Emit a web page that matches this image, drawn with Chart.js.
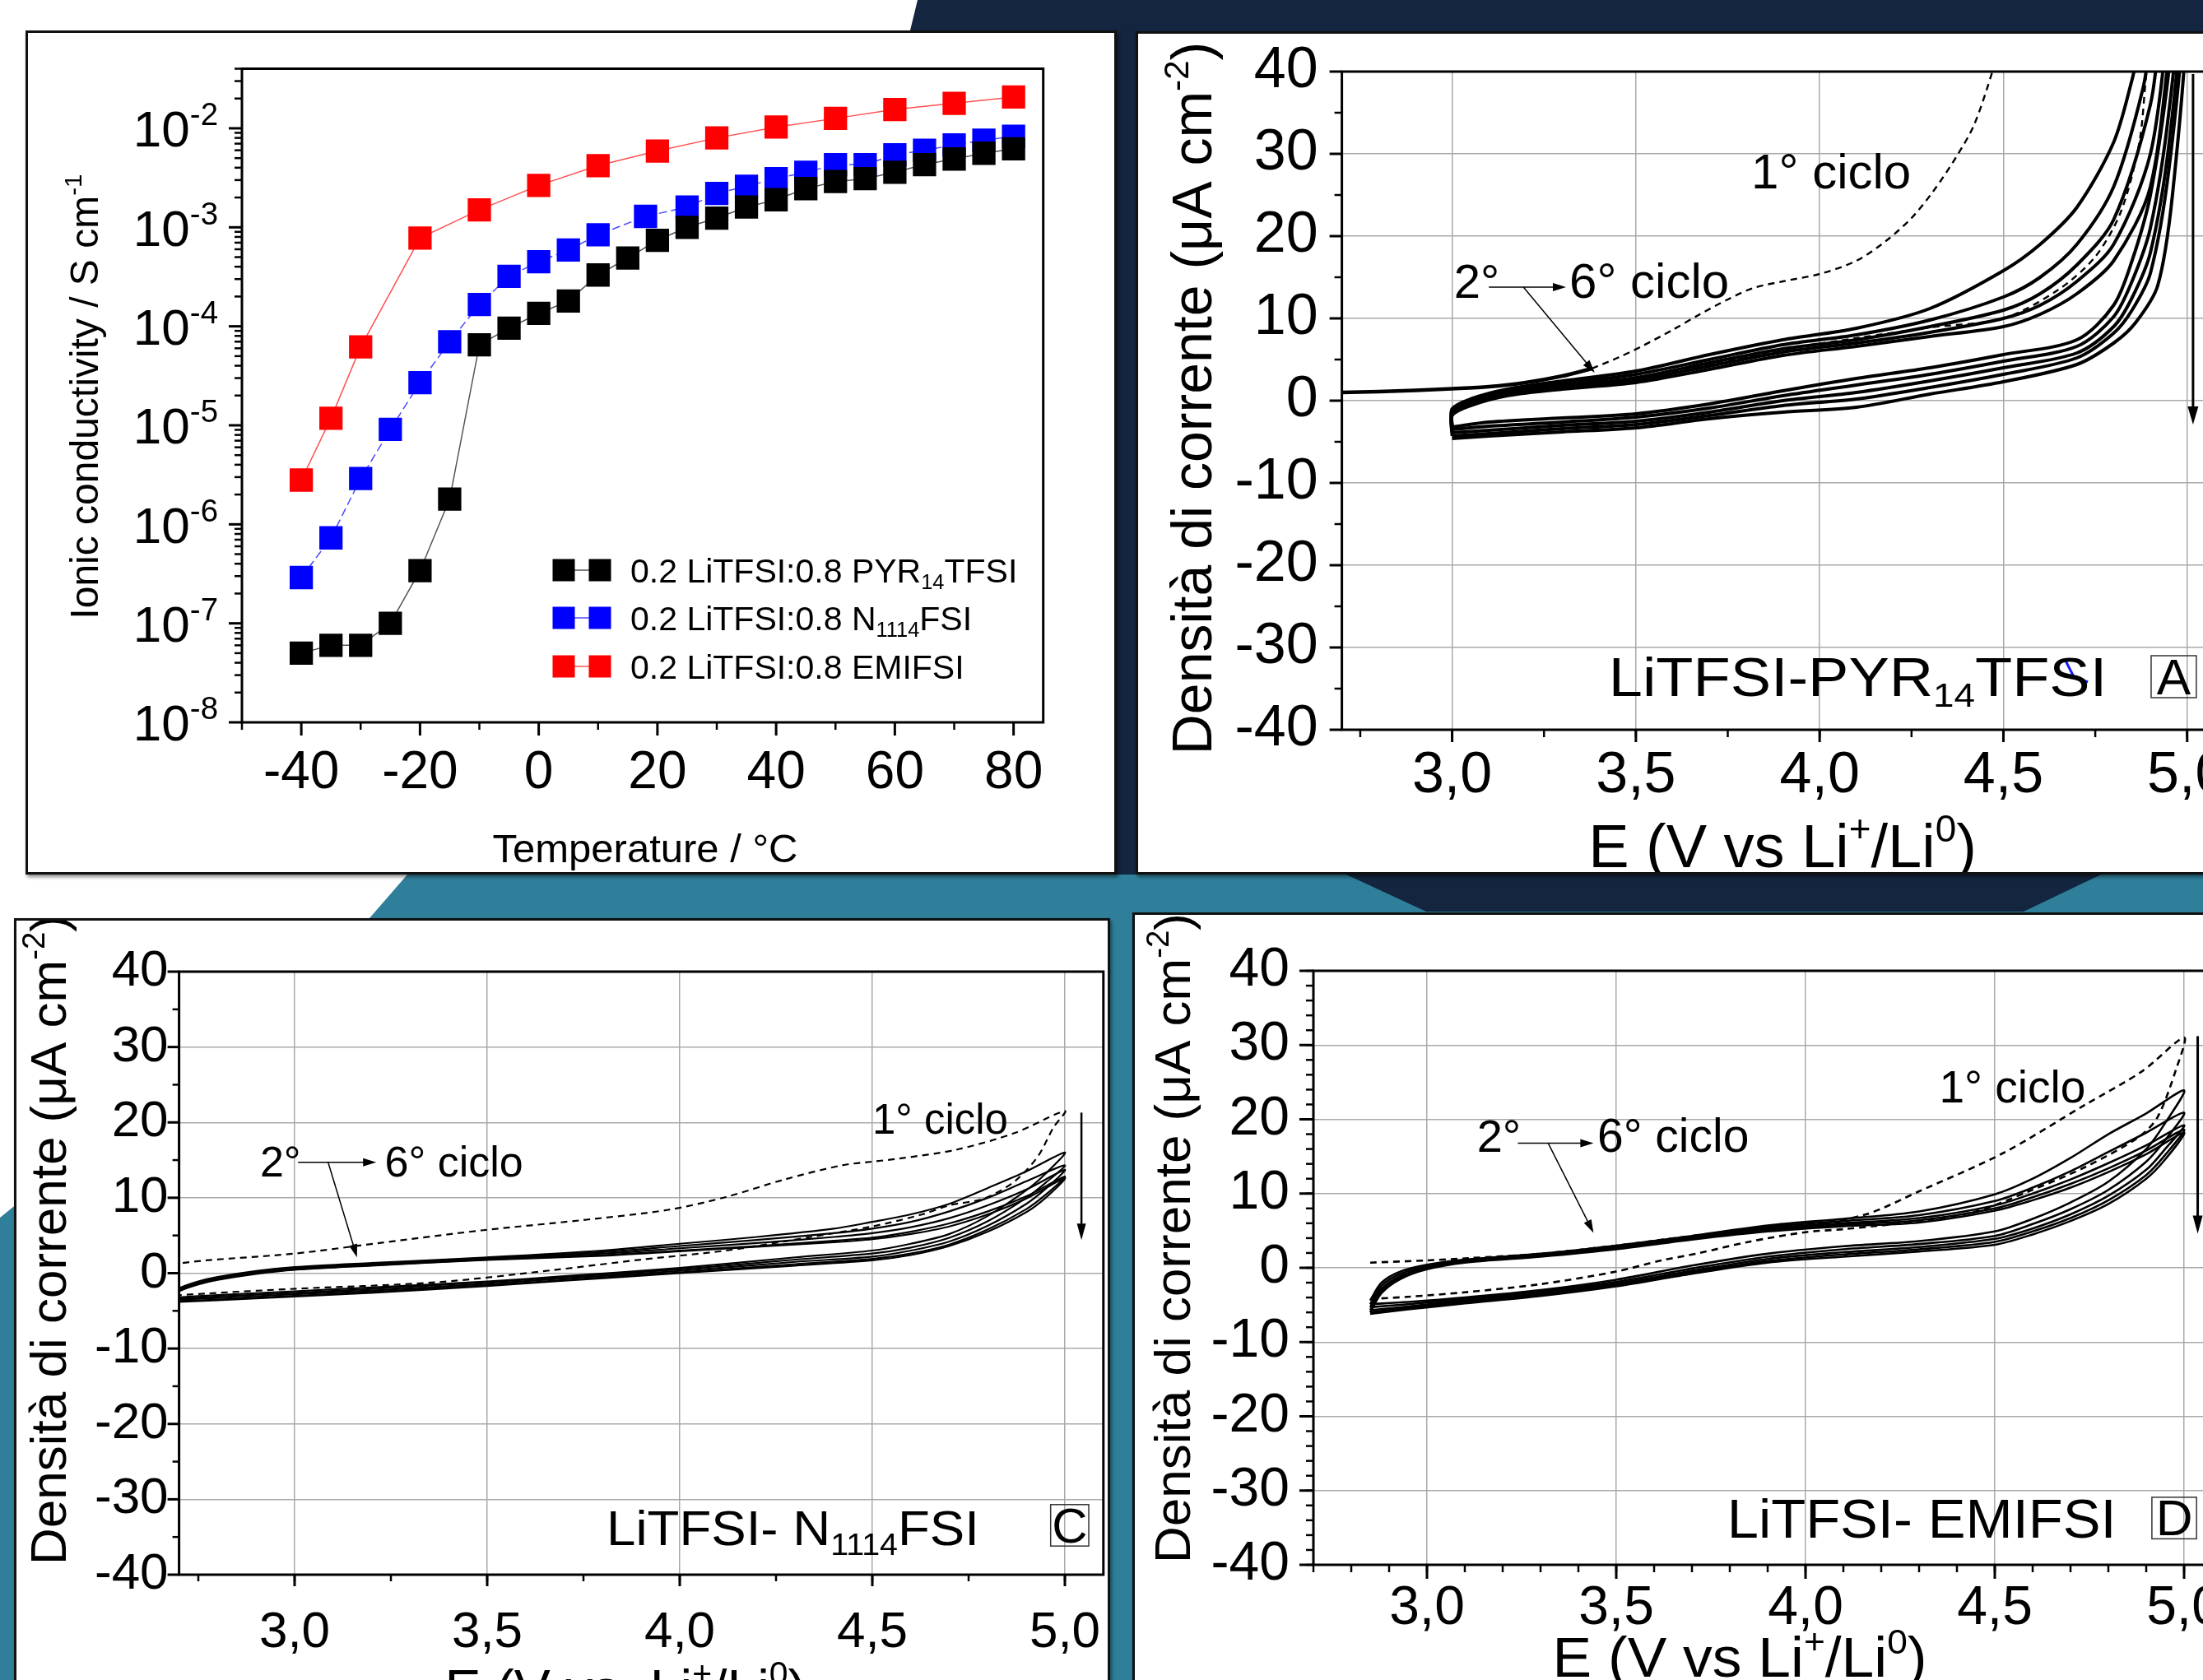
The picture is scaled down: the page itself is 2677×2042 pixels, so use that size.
<!DOCTYPE html>
<html lang="it">
<head>
<meta charset="utf-8">
<title>Conducibilità ionica e stabilità elettrochimica</title>
<script src="https://cdn.jsdelivr.net/npm/chart.js@4.4.1/dist/chart.umd.min.js"></script>
<style>
  html, body { margin: 0; padding: 0; }
  body { width: 2677px; height: 2042px; overflow: hidden; position: relative; background: #fff; }
  #bg { position: absolute; left: 0; top: 0; }
  .box { position: absolute; box-sizing: border-box; background: #fff; border: 3px solid #111; box-shadow: 2px 3px 4px rgba(0,0,0,0.45); }
  canvas { position: absolute; }
</style>
</head>
<body>
<svg id="bg" width="2677" height="2042">
  <polygon points="1115,0 2677,0 2677,1063 1340,1063 1340,37 1106,37" fill="#13253f"/>
  <polygon points="495,1063 2677,1063 2677,2042 0,2042 0,1480 449,1116" fill="#2f7f9a"/>
  <polygon points="1636,1063 2553,1063 2459,1108 1733,1108" fill="#13253f"/>
</svg>
<div class="box" style="left:31px;top:37px;width:1326px;height:1026px"></div>
<div class="box" style="left:1380px;top:38px;width:1400px;height:1025px"></div>
<div class="box" style="left:17px;top:1116px;width:1332px;height:1000px"></div>
<div class="box" style="left:1376px;top:1109px;width:1400px;height:1000px"></div>
<canvas id="cond" width="1320" height="1020" style="left:34px;top:40px"></canvas>
<canvas id="pyr" width="1400" height="1039" style="left:1383px;top:21px"></canvas>
<canvas id="n1114" width="1372" height="1000" style="left:20px;top:1119px"></canvas>
<canvas id="emi" width="1400" height="950" style="left:1379px;top:1112px"></canvas>
<script>
const FONT = "'Liberation Sans', Arial, Helvetica, sans-serif";

// ---------- ionic conductivity vs temperature ----------
const tempPyr = [-40, -35, -30, -25, -20, -15, -10, -5, 0, 5, 10, 15, 20, 25, 30, 35, 40, 45, 50, 55, 60, 65, 70, 75, 80];
const condPyr = [5.0e-8, 6.0e-8, 6.0e-8, 1.0e-7, 3.4e-7, 1.8e-6, 6.5e-5, 9.6e-5, 1.35e-4, 1.8e-4, 3.3e-4, 4.9e-4, 7.4e-4, 1.0e-3, 1.24e-3, 1.6e-3, 1.9e-3, 2.46e-3, 2.9e-3, 3.1e-3, 3.6e-3, 4.3e-3, 4.9e-3, 5.6e-3, 6.2e-3];
const tempN1114 = [-40, -35, -30, -25, -20, -15, -10, -5, 0, 5, 10, 18, 25, 30, 35, 40, 45, 50, 55, 60, 65, 70, 75, 80];
const condN1114 = [2.9e-7, 7.3e-7, 2.9e-6, 9.1e-6, 2.7e-5, 7.0e-5, 1.66e-4, 3.2e-4, 4.5e-4, 5.9e-4, 8.4e-4, 1.29e-3, 1.6e-3, 2.2e-3, 2.6e-3, 3.1e-3, 3.6e-3, 4.3e-3, 4.3e-3, 5.4e-3, 6.0e-3, 6.8e-3, 7.6e-3, 8.3e-3];
const tempEmi = [-40, -35, -30, -20, -10, 0, 10, 20, 30, 40, 50, 60, 70, 80];
const condEmi = [2.8e-6, 1.18e-5, 6.2e-5, 7.8e-4, 1.5e-3, 2.65e-3, 4.2e-3, 5.9e-3, 8.0e-3, 1.03e-2, 1.26e-2, 1.55e-2, 1.79e-2, 2.07e-2];
const tempTicks = [-40, -20, 0, 20, 40, 60, 80];
const condTicks = [1e-8, 1e-7, 1e-6, 1e-5, 1e-4, 1e-3, 1e-2];
const condLabels = ['0.2 LiTFSI:0.8 PYR_{14}TFSI', '0.2 LiTFSI:0.8 N_{1114}FSI', '0.2 LiTFSI:0.8 EMIFSI'];

// ---------- cyclic voltammetry, [E / V, j / uA cm-2] ----------
const cvXTicks = [3.0, 3.5, 4.0, 4.5, 5.0];
const cvYTicks = [-40, -30, -20, -10, 0, 10, 20, 30, 40];

// A: LiTFSI-PYR14TFSI
const pyrCycle1Start = [[2.70,1.0],[2.80,1.1],[2.90,1.25],[3.00,1.45],[3.10,1.7],[3.20,2.2],[3.30,3.0],[3.38,3.9]];
const pyrCycle1 = [[3.38,3.9],[3.45,5.2],[3.52,6.7],[3.60,8.6],[3.67,10.4],[3.75,12.3],[3.82,13.7],[3.90,14.5],[4.00,15.4],[4.10,17.0],[4.18,19.4],[4.25,22.2],[4.31,25.5],[4.37,29.5],[4.42,33.5],[4.47,40.0],[4.52,48.0],
  [4.92,48.0],[4.89,40.0],[4.87,31.4],[4.82,23.0],[4.75,17.5],[4.65,13.5],[4.50,10.0],[4.30,8.9],[4.10,7.6],[3.90,6.2],[3.70,4.4],[3.50,2.6],[3.30,1.7],[3.15,1.0],[3.05,-0.1],[3.00,-1.3],[3.00,-3.0]];
const pyrCycle2 = [[3.00,-3.0],[3.00,-1.0],[3.05,0.2],[3.15,1.4],[3.30,2.4],[3.50,3.6],[3.70,5.6],[3.90,7.4],[4.10,8.8],[4.30,11.2],[4.50,15.8],[4.60,19.0],[4.70,23.5],[4.80,31.4],[4.85,39.0],[4.90,48.0],
  [4.96,48.0],[4.95,40.0],[4.90,25.0],[4.85,17.0],[4.80,11.6],[4.70,7.4],[4.50,5.6],[4.30,4.0],[4.10,2.7],[3.90,1.2],[3.70,-0.4],[3.50,-1.6],[3.30,-2.1],[3.10,-2.6],[3.00,-3.2]];
const pyrCycle3 = [[3.00,-3.2],[3.00,-1.2],[3.05,0.0],[3.15,1.2],[3.30,2.1],[3.50,3.2],[3.70,5.0],[3.90,6.8],[4.10,8.0],[4.30,9.8],[4.50,12.6],[4.60,15.0],[4.70,19.0],[4.80,26.0],[4.88,38.0],[4.92,48.0],
  [4.97,48.0],[4.95,35.0],[4.90,21.0],[4.85,14.5],[4.80,10.2],[4.70,6.6],[4.50,4.8],[4.30,3.2],[4.10,1.9],[3.90,0.6],[3.70,-0.9],[3.50,-2.0],[3.30,-2.6],[3.10,-3.1],[3.00,-3.5]];
const pyrCycle4 = [[3.00,-3.5],[3.00,-1.4],[3.05,-0.2],[3.15,1.0],[3.30,1.8],[3.50,2.8],[3.70,4.6],[3.90,6.3],[4.10,7.4],[4.30,9.0],[4.50,11.0],[4.60,13.0],[4.70,16.5],[4.80,22.0],[4.90,36.0],[4.94,48.0],
  [4.98,48.0],[4.95,31.0],[4.90,18.0],[4.85,12.5],[4.80,9.0],[4.70,5.8],[4.50,4.0],[4.30,2.4],[4.10,1.0],[3.90,0.0],[3.70,-1.4],[3.50,-2.5],[3.30,-3.0],[3.10,-3.6],[3.00,-3.9]];
const pyrCycle5 = [[3.00,-3.9],[3.00,-1.6],[3.05,-0.4],[3.15,0.8],[3.30,1.6],[3.50,2.5],[3.70,4.2],[3.90,5.9],[4.10,7.0],[4.30,8.3],[4.50,10.0],[4.60,11.6],[4.70,14.5],[4.80,19.0],[4.90,30.0],[4.96,48.0],
  [4.99,48.0],[4.95,28.0],[4.90,15.5],[4.85,11.0],[4.80,8.2],[4.70,5.2],[4.50,3.2],[4.30,1.6],[4.10,0.2],[3.90,-0.6],[3.70,-1.8],[3.50,-2.9],[3.30,-3.4],[3.10,-4.0],[3.00,-4.3]];
const pyrCycle6 = [[3.00,-4.3],[3.00,-1.8],[3.05,-0.6],[3.15,0.6],[3.30,1.4],[3.50,2.2],[3.70,3.8],[3.90,5.5],[4.10,6.6],[4.30,7.8],[4.50,9.0],[4.60,10.5],[4.70,13.0],[4.80,17.0],[4.90,26.0],[4.97,48.0],
  [5.00,48.0],[4.96,25.0],[4.92,14.0],[4.86,9.5],[4.80,7.0],[4.70,4.4],[4.50,2.3],[4.30,0.8],[4.10,-0.8],[3.90,-1.4],[3.70,-2.2],[3.50,-3.3],[3.30,-3.8],[3.10,-4.3],[3.00,-4.6]];

// C: LiTFSI-N1114FSI
const n1114Cycle1 = [[2.65,1.1],[2.70,1.3],[2.77,1.7],[3.00,2.6],[3.22,4.0],[3.49,5.7],[3.74,7.0],[3.97,8.4],[4.12,10.1],[4.27,12.4],[4.42,14.3],[4.50,14.8],[4.57,15.2],[4.72,16.4],[4.87,18.6],[5.00,21.5],
  [4.97,19.3],[4.93,15.5],[4.87,12.2],[4.79,9.9],[4.70,9.0],[4.63,7.8],[4.50,6.2],[4.34,4.8],[4.12,3.0],[3.90,1.8],[3.67,0.4],[3.37,-1.2],[2.99,-2.1],[2.77,-2.7],[2.65,-3.1]];
const n1114Cycle2 = [[2.65,-3.4],[2.70,-2.0],[2.75,-1.1],[2.80,-0.5],[2.90,0.3],[3.00,0.8],[3.20,1.35],[3.50,2.1],[3.80,3.0],[4.00,3.9],[4.20,4.8],[4.40,5.9],[4.50,6.8],[4.60,7.8],[4.70,9.2],[4.80,11.3],[4.90,13.5],[5.00,16.0],
  [4.95,13.2],[4.90,11.0],[4.80,7.6],[4.70,5.2],[4.60,3.9],[4.50,3.0],[4.30,2.1],[4.00,0.7],[3.70,-0.4],[3.50,-1.1],[3.20,-1.9],[3.00,-2.4],[2.80,-2.9],[2.70,-3.2],[2.65,-3.4]];
const n1114Cycle3 = [[2.65,-3.5],[2.70,-2.1],[2.75,-1.2],[2.80,-0.6],[2.90,0.2],[3.00,0.7],[3.20,1.25],[3.50,2.0],[3.80,2.8],[4.00,3.6],[4.20,4.4],[4.40,5.3],[4.50,5.9],[4.60,6.8],[4.70,8.2],[4.80,10.0],[4.90,12.2],[5.00,14.3],
  [4.95,12.0],[4.90,10.0],[4.80,6.9],[4.70,4.7],[4.60,3.4],[4.50,2.6],[4.30,1.8],[4.00,0.5],[3.70,-0.5],[3.50,-1.2],[3.20,-2.1],[3.00,-2.6],[2.80,-3.1],[2.70,-3.4],[2.65,-3.5]];
const n1114Cycle4 = [[2.65,-3.5],[2.70,-2.2],[2.75,-1.3],[2.80,-0.7],[2.90,0.1],[3.00,0.6],[3.20,1.15],[3.50,1.9],[3.80,2.6],[4.00,3.3],[4.20,4.0],[4.40,4.8],[4.50,5.3],[4.60,6.1],[4.70,7.3],[4.80,9.0],[4.90,11.1],[5.00,13.7],
  [4.95,11.2],[4.90,9.2],[4.80,6.3],[4.70,4.2],[4.60,3.0],[4.50,2.2],[4.30,1.5],[4.00,0.3],[3.70,-0.7],[3.50,-1.4],[3.20,-2.3],[3.00,-2.8],[2.80,-3.3],[2.70,-3.5],[2.65,-3.6]];
const n1114Cycle5 = [[2.65,-3.6],[2.70,-2.3],[2.75,-1.4],[2.80,-0.8],[2.90,0.0],[3.00,0.5],[3.20,1.05],[3.50,1.8],[3.80,2.4],[4.00,3.0],[4.20,3.6],[4.40,4.3],[4.50,4.7],[4.60,5.5],[4.70,6.6],[4.80,8.2],[4.90,10.2],[5.00,12.8],
  [4.95,10.4],[4.90,8.5],[4.80,5.8],[4.70,3.8],[4.60,2.6],[4.50,1.9],[4.30,1.2],[4.00,0.1],[3.70,-0.9],[3.50,-1.6],[3.20,-2.5],[3.00,-3.0],[2.80,-3.5],[2.70,-3.7],[2.65,-3.8]];
const n1114Cycle6 = [[2.65,-3.8],[2.70,-2.4],[2.75,-1.5],[2.80,-0.9],[2.90,-0.1],[3.00,0.45],[3.20,1.0],[3.50,1.75],[3.80,2.3],[4.00,2.9],[4.20,3.5],[4.40,4.1],[4.50,4.5],[4.60,5.2],[4.70,6.2],[4.80,7.8],[4.90,9.9],[5.00,12.6],
  [4.95,10.0],[4.90,8.1],[4.80,5.5],[4.70,3.6],[4.60,2.4],[4.50,1.7],[4.30,1.0],[4.00,0.0],[3.70,-1.0],[3.50,-1.7],[3.20,-2.6],[3.00,-3.1],[2.80,-3.6],[2.70,-3.8],[2.65,-3.9]];

// D: LiTFSI-EMIFSI
const emiCycle1 = [[2.85,0.7],[3.00,1.0],[3.11,1.3],[3.30,1.9],[3.50,3.0],[3.70,4.3],[3.90,5.5],[4.01,5.8],[4.16,7.2],[4.30,10.3],[4.52,15.4],[4.74,22.0],[4.89,26.5],[5.00,31.0],
  [4.98,26.9],[4.93,20.3],[4.88,17.6],[4.74,13.6],[4.59,10.3],[4.45,7.6],[4.30,6.3],[4.10,5.2],[4.00,4.8],[3.85,3.5],[3.72,2.0],[3.62,1.0],[3.50,-0.5],[3.30,-2.2],[3.10,-3.3],[2.95,-3.9],[2.85,-4.2]];
const emiCycle2 = [[2.85,-4.4],[2.88,-2.0],[2.93,-0.5],[3.00,0.4],[3.10,1.1],[3.30,1.9],[3.50,3.0],[3.70,4.3],[3.90,5.7],[4.10,6.6],[4.30,7.6],[4.50,9.9],[4.60,12.0],[4.70,14.8],[4.80,18.0],[4.90,20.8],[5.00,23.9],
  [4.95,19.5],[4.90,16.0],[4.80,11.6],[4.70,8.8],[4.60,6.6],[4.50,4.9],[4.30,3.6],[4.10,2.9],[3.90,1.9],[3.70,0.3],[3.50,-1.6],[3.30,-3.0],[3.10,-4.0],[2.95,-4.6],[2.85,-4.9]];
const emiCycle3 = [[2.85,-4.9],[2.88,-2.4],[2.93,-0.8],[3.00,0.2],[3.10,1.0],[3.30,1.8],[3.50,2.8],[3.70,4.1],[3.90,5.5],[4.10,6.3],[4.30,7.1],[4.50,9.0],[4.60,10.8],[4.70,13.0],[4.80,15.6],[4.90,18.2],[5.00,20.9],
  [4.95,17.2],[4.90,14.3],[4.80,10.5],[4.70,7.9],[4.60,5.9],[4.50,4.3],[4.30,3.2],[4.10,2.5],[3.90,1.5],[3.70,-0.1],[3.50,-1.9],[3.30,-3.2],[3.10,-4.2],[2.95,-4.9],[2.85,-5.3]];
const emiCycle4 = [[2.85,-5.3],[2.88,-2.8],[2.93,-1.1],[3.00,0.0],[3.10,0.9],[3.30,1.7],[3.50,2.7],[3.70,4.0],[3.90,5.3],[4.10,6.0],[4.30,6.7],[4.50,8.4],[4.60,10.0],[4.70,11.9],[4.80,14.1],[4.90,16.5],[5.00,19.2],
  [4.95,16.0],[4.90,13.2],[4.80,9.7],[4.70,7.2],[4.60,5.3],[4.50,3.9],[4.30,2.8],[4.10,2.1],[3.90,1.2],[3.70,-0.4],[3.50,-2.1],[3.30,-3.4],[3.10,-4.4],[2.95,-5.2],[2.85,-5.7]];
const emiCycle5 = [[2.85,-5.7],[2.88,-3.1],[2.93,-1.3],[3.00,-0.1],[3.10,0.8],[3.30,1.6],[3.50,2.6],[3.70,3.9],[3.90,5.1],[4.10,5.8],[4.30,6.4],[4.50,8.0],[4.60,9.5],[4.70,11.3],[4.80,13.4],[4.90,15.8],[5.00,18.6],
  [4.95,15.2],[4.90,12.5],[4.80,9.1],[4.70,6.7],[4.60,4.9],[4.50,3.5],[4.30,2.5],[4.10,1.8],[3.90,0.9],[3.70,-0.6],[3.50,-2.3],[3.30,-3.6],[3.10,-4.6],[2.95,-5.4],[2.85,-6.0]];
const emiCycle6 = [[2.85,-6.0],[2.88,-3.4],[2.93,-1.5],[3.00,-0.2],[3.10,0.7],[3.30,1.5],[3.50,2.5],[3.70,3.8],[3.90,4.9],[4.10,5.6],[4.30,6.1],[4.50,7.7],[4.60,9.1],[4.70,10.8],[4.80,12.9],[4.90,15.3],[5.00,18.2],
  [4.95,14.6],[4.90,12.0],[4.80,8.6],[4.70,6.3],[4.60,4.5],[4.50,3.1],[4.30,2.2],[4.10,1.5],[3.90,0.7],[3.70,-0.8],[3.50,-2.5],[3.30,-3.8],[3.10,-4.8],[2.95,-5.6],[2.85,-6.2]];

// ---------- helpers ----------
const pts = arr => arr.map(p => ({x: p[0], y: p[1]}));
function steps(a, b, s) {
  const out = [];
  for (let v = a; v <= b + 1e-9; v += s) out.push(+v.toFixed(4));
  return out;
}
function logMinors() {
  const out = [];
  for (let e = -8; e <= -2; e++) for (let k = 2; k <= 9; k++) {
    const v = k * Math.pow(10, e);
    if (v <= 0.04) out.push(v);
  }
  return out;
}
function parseRich(s) {
  return s.split(/(\^\{[^}]*\}|_\{[^}]*\})/).filter(p => p).map(p => {
    if (p.startsWith('^{')) return {t: p.slice(2, -1), k: 'sup'};
    if (p.startsWith('_{')) return {t: p.slice(2, -1), k: 'sub'};
    return {t: p, k: ''};
  });
}
function richText(ctx, s, x, y, size, align, rot, mid, color, sx) {
  const parts = parseRich(s);
  const small = size * 0.62;
  let w = 0;
  parts.forEach(p => {
    ctx.font = (p.k ? small : size) + 'px ' + FONT;
    p.w = ctx.measureText(p.t).width;
    w += p.w;
  });
  ctx.save();
  ctx.translate(x, y);
  if (rot) ctx.rotate(rot * Math.PI / 180);
  if (sx) ctx.scale(sx, 1);
  let cx = align === 'center' ? -w / 2 : (align === 'right' ? -w : 0);
  const base = mid ? size * 0.36 : 0;
  ctx.fillStyle = color || '#000';
  ctx.textAlign = 'left';
  ctx.textBaseline = 'alphabetic';
  parts.forEach(p => {
    ctx.font = (p.k ? small : size) + 'px ' + FONT;
    const dy = p.k === 'sup' ? -size * 0.42 : (p.k === 'sub' ? size * 0.2 : 0);
    ctx.fillText(p.t, cx, base + dy);
    cx += p.w;
  });
  ctx.restore();
}
function arrow(ctx, x0, y0, x1, y1, w, hl, hw) {
  const a = Math.atan2(y1 - y0, x1 - x0), c = Math.cos(a), s = Math.sin(a);
  ctx.lineWidth = w;
  ctx.beginPath();
  ctx.moveTo(x0, y0);
  ctx.lineTo(x1 - c * hl * 0.8, y1 - s * hl * 0.8);
  ctx.stroke();
  ctx.beginPath();
  ctx.moveTo(x1, y1);
  ctx.lineTo(x1 - c * hl + s * hw / 2, y1 - s * hl - c * hw / 2);
  ctx.lineTo(x1 - c * hl - s * hw / 2, y1 - s * hl + c * hw / 2);
  ctx.closePath();
  ctx.fill();
}

// frame, tick marks, labels and notes drawn over each chart
const decoCfg = {};
const deco = {
  id: 'deco',
  afterDatasetsDraw(chart) {
    const o = decoCfg[chart.canvas.id];
    const ctx = chart.ctx, a = chart.chartArea, xs = chart.scales.x, ys = chart.scales.y;
    const P = (m, x, y) => m === 'd' ? [xs.getPixelForValue(x), ys.getPixelForValue(y)] : [x - o.left, y - o.top];
    ctx.save();
    ctx.strokeStyle = '#000';
    ctx.fillStyle = '#000';
    const xt = (v, len, w) => {
      const X = xs.getPixelForValue(v);
      if (X < a.left - 1 || X > a.right + 1) return;
      ctx.lineWidth = w; ctx.beginPath(); ctx.moveTo(X, a.bottom); ctx.lineTo(X, a.bottom + len); ctx.stroke();
    };
    const yt = (v, len, w) => {
      const Y = ys.getPixelForValue(v);
      if (Y < a.top - 1 || Y > a.bottom + 1) return;
      ctx.lineWidth = w; ctx.beginPath(); ctx.moveTo(a.left, Y); ctx.lineTo(a.left - len, Y); ctx.stroke();
    };
    o.xMinor.forEach(v => xt(v, o.lenMinor, 2.5));
    o.yMinor.forEach(v => yt(v, o.lenMinor, 2.5));
    o.xMajor.forEach(v => xt(v, o.lenMajor, 3));
    o.yMajor.forEach(v => yt(v, o.lenMajor, 3));
    ctx.lineWidth = 3;
    ctx.strokeRect(a.left, a.top, a.right - a.left, a.bottom - a.top);

    if (o.logLabels) {
      o.yMajor.forEach(v => {
        const Y = ys.getPixelForValue(v);
        richText(ctx, '10^{' + Math.round(Math.log10(v)) + '}', a.left - o.logLabels.gap, Y, o.logLabels.size, 'right', 0, true);
      });
    }
    (o.lines || []).forEach(l => {
      ctx.save();
      ctx.strokeStyle = l.color; ctx.lineWidth = l.w; ctx.setLineDash(l.dash || []);
      ctx.beginPath();
      l.pts.forEach((p, i) => { const q = P(l.m, p[0], p[1]); if (i) ctx.lineTo(q[0], q[1]); else ctx.moveTo(q[0], q[1]); });
      ctx.stroke();
      ctx.restore();
    });
    (o.squares || []).forEach(s => {
      const q = P(s.m, s.x, s.y);
      ctx.fillStyle = s.color;
      ctx.fillRect(q[0] - s.side / 2, q[1] - s.side / 2, s.side, s.side);
    });
    ctx.fillStyle = '#000';
    (o.boxes || []).forEach(b => {
      const p0 = P(b.m, b.x0, b.y0), p1 = P(b.m, b.x1, b.y1);
      ctx.strokeStyle = '#333'; ctx.lineWidth = 1.5;
      ctx.strokeRect(p0[0], p0[1], p1[0] - p0[0], p1[1] - p0[1]);
    });
    ctx.strokeStyle = '#000';
    (o.arrows || []).forEach(r => {
      const p0 = P(r.m, r.from[0], r.from[1]), p1 = P(r.m, r.to[0], r.to[1]);
      arrow(ctx, p0[0], p0[1], p1[0], p1[1], r.w, r.hl, r.hw);
    });
    (o.texts || []).forEach(t => {
      const q = P(t.m, t.x, t.y);
      richText(ctx, t.s, q[0], q[1], t.size, t.align || 'left', t.rot || 0, !!t.mid, t.color, t.sx);
    });
    ctx.restore();
  }
};

// ---------- conductivity chart ----------
decoCfg.cond = {
  left: 34, top: 40,
  xMajor: tempTicks, xMinor: [-50, -30, -10, 10, 30, 50, 70],
  yMajor: condTicks, yMinor: logMinors(),
  lenMajor: 16, lenMinor: 9,
  logLabels: {size: 62, gap: 29},
  texts: [
    {s: 'Ionic conductivity / S cm^{-1}', m: 'p', x: 102, y: 482, size: 48, align: 'center', rot: -90, mid: true},
    {s: 'Temperature / °C', m: 'p', x: 784, y: 1030, size: 49, align: 'center', mid: true},
    {s: condLabels[0], m: 'p', x: 766, y: 693, size: 41, mid: true},
    {s: condLabels[1], m: 'p', x: 766, y: 751, size: 41, mid: true},
    {s: condLabels[2], m: 'p', x: 766, y: 810, size: 41, mid: true}
  ],
  squares: [
    {m: 'p', x: 685, y: 693, side: 27, color: '#000'}, {m: 'p', x: 729, y: 693, side: 27, color: '#000'},
    {m: 'p', x: 685, y: 751, side: 27, color: '#0000ff'}, {m: 'p', x: 729, y: 751, side: 27, color: '#0000ff'},
    {m: 'p', x: 685, y: 810, side: 27, color: '#ff0000'}, {m: 'p', x: 729, y: 810, side: 27, color: '#ff0000'}
  ],
  lines: [
    {m: 'p', pts: [[698, 693], [716, 693]], color: '#555', w: 1.5},
    {m: 'p', pts: [[698, 751], [716, 751]], color: '#4a4aff', w: 1.5},
    {m: 'p', pts: [[698, 810], [716, 810]], color: '#ff5050', w: 1.5}
  ]
};

function condSet(t, c, fill, line, dash) {
  return {
    data: t.map((v, i) => ({x: v, y: c[i]})), showLine: true,
    borderColor: line, borderWidth: 1.5, borderDash: dash || [],
    pointStyle: 'rect', pointRadius: 20, pointBackgroundColor: fill, pointBorderWidth: 0
  };
}

new Chart(document.getElementById('cond'), {
  type: 'scatter',
  data: {datasets: [
    condSet(tempPyr, condPyr, '#000', '#555'),
    condSet(tempN1114, condN1114, '#0000ff', '#4a4aff', [10, 5]),
    condSet(tempEmi, condEmi, '#ff0000', '#ff5050')
  ]},
  options: {
    responsive: false, animation: false, devicePixelRatio: 1,
    layout: {padding: {left: 0, top: 43.5, right: 86.3, bottom: 0}},
    plugins: {legend: {display: false}, tooltip: {enabled: false}},
    scales: {
      x: {
        type: 'linear', min: -50, max: 85,
        afterBuildTicks: s => { s.ticks = tempTicks.map(v => ({value: v})); },
        afterFit: s => { s.height = 182; },
        grid: {display: false, drawTicks: false}, border: {display: false},
        ticks: {color: '#000', font: {family: FONT, size: 64, lineHeight: 1}, padding: 30, maxRotation: 0, autoSkip: false, callback: v => String(v)}
      },
      y: {
        type: 'logarithmic', min: 1e-8, max: 0.04,
        afterBuildTicks: s => { s.ticks = condTicks.map(v => ({value: v})); },
        afterFit: s => { s.width = 260; },
        grid: {display: false, drawTicks: false}, border: {display: false},
        ticks: {display: false}
      }
    }
  },
  plugins: [deco]
});

// ---------- CV charts ----------
function cvChart(id, c) {
  const sets = [];
  c.cycles.forEach(cy => sets.push({data: pts(cy), showLine: true, borderColor: '#000', borderWidth: c.lw, pointRadius: 0, tension: 0.3}));
  (c.solidExtra || []).forEach(cy => sets.push({data: pts(cy), showLine: true, borderColor: '#000', borderWidth: c.lw + 0.6, pointRadius: 0, tension: 0.3}));
  c.dashed.forEach(cy => sets.push({data: pts(cy), showLine: true, borderColor: '#000', borderWidth: c.dlw, borderDash: [8, 6], pointRadius: 0, tension: 0.3}));
  const tickFont = {family: FONT, size: c.fs, lineHeight: 1};
  new Chart(document.getElementById(id), {
    type: 'scatter',
    data: {datasets: sets},
    options: {
      responsive: false, animation: false, devicePixelRatio: 1,
      layout: {padding: {left: 0, top: c.top, right: c.right, bottom: 0}},
      plugins: {legend: {display: false}, tooltip: {enabled: false}},
      scales: {
        x: {
          type: 'linear', min: 2.7, max: 5.1,
          afterBuildTicks: s => { s.ticks = cvXTicks.map(v => ({value: v})); },
          afterFit: s => { s.height = c.xh; },
          grid: {color: '#a9a9a9', lineWidth: 1.5, drawTicks: false}, border: {display: false},
          ticks: {color: '#000', font: tickFont, padding: c.xpad, maxRotation: 0, autoSkip: false,
                  callback: v => Number(v).toFixed(1).replace('.', ',')}
        },
        y: {
          type: 'linear', min: -40, max: 40,
          afterBuildTicks: s => { s.ticks = cvYTicks.map(v => ({value: v})); },
          afterFit: s => { s.width = c.yw; },
          grid: {color: '#a9a9a9', lineWidth: 1.5, drawTicks: false}, border: {display: false},
          ticks: {color: '#000', font: tickFont, padding: c.ypad, autoSkip: false, callback: v => String(v)}
        }
      }
    },
    plugins: [deco]
  });
}

const yTitle = 'Densità di corrente (μA cm^{-2})';

decoCfg.pyr = {
  left: 1383, top: 21,
  xMajor: cvXTicks, xMinor: steps(2.75, 5.1, 0.25),
  yMajor: cvYTicks, yMinor: steps(-35, 35, 10),
  lenMajor: 15, lenMinor: 9,
  texts: [
    {s: yTitle, m: 'p', x: 1448, y: 484, size: 68, align: 'center', rot: -90, mid: true},
    {s: 'E (V vs Li^{+}/Li^{0})', m: 'p', x: 2166, y: 1027, size: 74, align: 'center', mid: true},
    {s: '1° ciclo', m: 'd', x: 3.814, y: 25.8, size: 60},
    {s: '2°', m: 'd', x: 3.005, y: 12.5, size: 58},
    {s: '6° ciclo', m: 'd', x: 3.319, y: 12.5, size: 60},
    {s: 'LiTFSI-PYR_{14}TFSI', m: 'd', x: 3.426, y: -35.9, size: 66, sx: 1.12},
    {s: 'A', m: 'd', x: 4.9635, y: -35.7, size: 62, align: 'center'}
  ],
  boxes: [{m: 'd', x0: 4.902, y0: -31.0, x1: 5.025, y1: -36.1}],
  arrows: [
    {m: 'd', from: [3.10, 13.8], to: [3.31, 13.8], w: 1.5, hl: 16, hw: 10},
    {m: 'd', from: [3.194, 13.8], to: [3.388, 3.4], w: 1.5, hl: 16, hw: 10},
    {m: 'd', from: [5.016, 39.7], to: [5.016, -2.9], w: 3, hl: 22, hw: 13}
  ],
  lines: [{m: 'd', pts: [[4.669, -31.6], [4.692, -33.6], [4.730, -34.2]], color: '#1a1aff', w: 3}]
};
cvChart('pyr', {
  cycles: [pyrCycle2, pyrCycle3, pyrCycle4, pyrCycle5, pyrCycle6],
  solidExtra: [pyrCycle1Start], dashed: [pyrCycle1],
  lw: 4, dlw: 2.4, fs: 70, top: 66, right: 80.6, xh: 173, yw: 247.6, xpad: 22, ypad: 29
});

decoCfg.n1114 = {
  left: 20, top: 1119,
  xMajor: cvXTicks, xMinor: steps(2.75, 5.1, 0.25),
  yMajor: cvYTicks, yMinor: steps(-35, 35, 10),
  lenMajor: 14, lenMinor: 8,
  texts: [
    {s: yTitle, m: 'p', x: 58, y: 1507, size: 62, align: 'center', rot: -90, mid: true},
    {s: 'E (V vs. Li^{+}/Li^{0})', m: 'p', x: 760, y: 2052, size: 66, align: 'center', mid: true},
    {s: '1° ciclo', m: 'd', x: 4.50, y: 18.5, size: 51},
    {s: '2°', m: 'd', x: 2.91, y: 12.8, size: 52},
    {s: '6° ciclo', m: 'd', x: 3.234, y: 12.8, size: 52},
    {s: 'LiTFSI- N_{1114}FSI', m: 'd', x: 3.81, y: -36.07, size: 60, sx: 1.06},
    {s: 'C', m: 'd', x: 5.0125, y: -35.7, size: 60, align: 'center'}
  ],
  boxes: [{m: 'd', x0: 4.963, y0: -30.7, x1: 5.062, y1: -36.2}],
  arrows: [
    {m: 'd', from: [3.009, 14.7], to: [3.212, 14.7], w: 1.5, hl: 16, hw: 10},
    {m: 'd', from: [3.087, 14.7], to: [3.162, 2.1], w: 1.5, hl: 16, hw: 10},
    {m: 'd', from: [5.043, 21.3], to: [5.043, 4.4], w: 2.5, hl: 20, hw: 11}
  ]
};
cvChart('n1114', {
  cycles: [n1114Cycle2, n1114Cycle3, n1114Cycle4, n1114Cycle5, n1114Cycle6],
  dashed: [n1114Cycle1],
  lw: 2.2, dlw: 2.2, fs: 62, top: 62, right: 51.2, xh: 205, yw: 197.6, xpad: 40, ypad: 13
});

decoCfg.emi = {
  left: 1379, top: 1112,
  xMajor: cvXTicks, xMinor: steps(2.7, 5.1, 0.1),
  yMajor: cvYTicks, yMinor: steps(-40, 40, 2),
  lenMajor: 17, lenMinor: 9,
  texts: [
    {s: yTitle, m: 'p', x: 1424, y: 1505, size: 62, align: 'center', rot: -90, mid: true},
    {s: 'E (V vs Li^{+}/Li^{0})', m: 'p', x: 2114, y: 2014, size: 68, align: 'center', mid: true, sx: 1.05},
    {s: '1° ciclo', m: 'd', x: 4.353, y: 22.3, size: 55},
    {s: '2°', m: 'd', x: 3.132, y: 15.6, size: 56},
    {s: '6° ciclo', m: 'd', x: 3.45, y: 15.6, size: 57},
    {s: 'LiTFSI- EMIFSI', m: 'd', x: 3.793, y: -36.3, size: 66, sx: 1.04},
    {s: 'D', m: 'd', x: 4.974, y: -36.0, size: 62, align: 'center'}
  ],
  boxes: [{m: 'd', x0: 4.915, y0: -30.9, x1: 5.033, y1: -36.5}],
  arrows: [
    {m: 'd', from: [3.24, 16.8], to: [3.44, 16.8], w: 1.5, hl: 16, hw: 10},
    {m: 'd', from: [3.32, 16.8], to: [3.44, 4.7], w: 1.5, hl: 16, hw: 10},
    {m: 'd', from: [5.036, 31.2], to: [5.036, 4.6], w: 3, hl: 22, hw: 12}
  ]
};
cvChart('emi', {
  cycles: [emiCycle2, emiCycle3, emiCycle4, emiCycle5, emiCycle6],
  dashed: [emiCycle1],
  lw: 2.6, dlw: 2.6, fs: 66, top: 68, right: 79, xh: 160, yw: 217, xpad: 21, ypad: 29
});
</script>
</body>
</html>
